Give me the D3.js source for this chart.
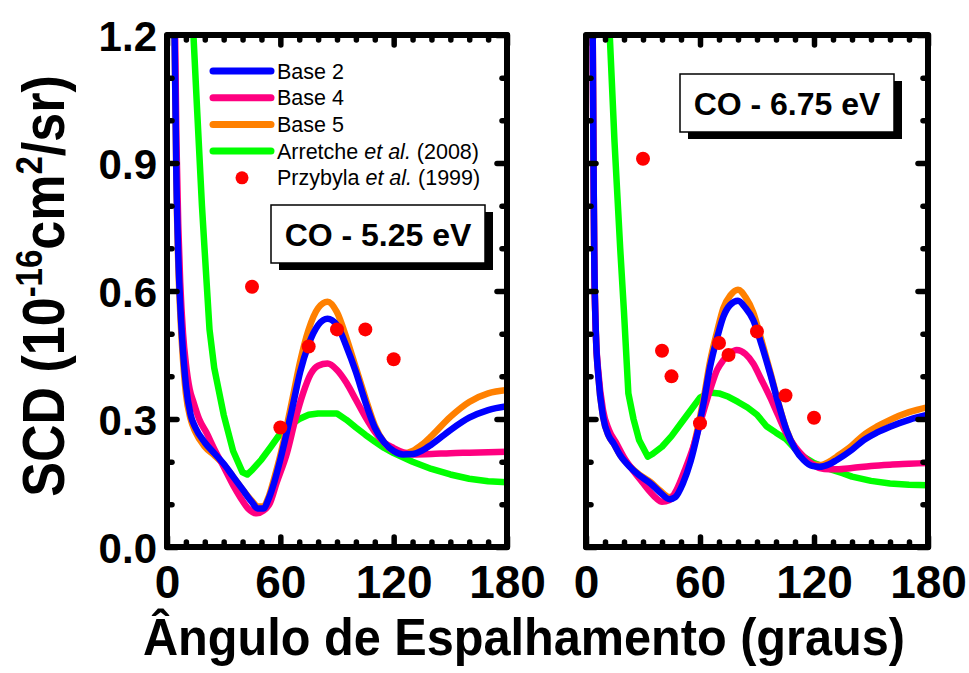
<!DOCTYPE html>
<html>
<head>
<meta charset="utf-8">
<script src="https://cdn.jsdelivr.net/npm/d3@7"></script>
<style>
  body { margin: 0; background: #fff; }
  svg { display: block; }
</style>
</head>
<body>
<svg id="chart" width="969" height="673"></svg>
<script>
// ---- Scattering angle (deg) and SCD (10^-16 cm^2/sr), CO at 5.25 eV ----
const base2AngA = [3, 4, 5, 6, 7, 8, 10, 12.5, 15, 20, 25, 30, 35, 40, 45, 48, 51, 54, 57, 60, 63.5, 67, 70.5, 75, 80, 85, 90, 95, 100, 105, 110, 115, 120, 125, 130, 135, 140, 150, 160, 170, 180];
const base2ValA = [1.7, 1.2, 0.86, 0.68, 0.57, 0.49, 0.38, 0.31, 0.28, 0.245, 0.22, 0.195, 0.165, 0.135, 0.105, 0.09, 0.09, 0.115, 0.155, 0.205, 0.27, 0.34, 0.41, 0.475, 0.52, 0.535, 0.52, 0.47, 0.41, 0.34, 0.28, 0.245, 0.225, 0.217, 0.218, 0.226, 0.24, 0.274, 0.303, 0.321, 0.33];
const base5ValA = [1.7, 1.2, 0.85, 0.66, 0.55, 0.47, 0.36, 0.3, 0.27, 0.235, 0.215, 0.193, 0.165, 0.135, 0.108, 0.095, 0.095, 0.12, 0.165, 0.215, 0.285, 0.36, 0.435, 0.51, 0.56, 0.575, 0.55, 0.49, 0.42, 0.35, 0.285, 0.245, 0.225, 0.22, 0.225, 0.24, 0.26, 0.305, 0.34, 0.36, 0.368];
const base4AngA = [3, 4, 5, 6, 7, 8.5, 10, 12, 14, 17, 21, 25, 30, 35, 39, 43, 47.5, 51, 54.5, 58, 63.5, 68, 72, 76, 80, 85, 90, 95, 100, 105, 110, 115, 120, 125, 130, 140, 150, 160, 170, 180];
const base4ValA = [1.8, 1.3, 0.95, 0.75, 0.62, 0.5, 0.43, 0.37, 0.34, 0.30, 0.267, 0.23, 0.188, 0.145, 0.115, 0.09, 0.079, 0.085, 0.103, 0.15, 0.22, 0.30, 0.36, 0.405, 0.425, 0.43, 0.415, 0.385, 0.345, 0.305, 0.27, 0.245, 0.232, 0.222, 0.217, 0.218, 0.22, 0.221, 0.222, 0.223];
const arretcheAngA = [10, 14, 16, 18.5, 20, 22.5, 25, 30, 35, 40, 42.5, 45, 50, 55, 60, 65, 70, 75, 80, 85, 90, 95, 100, 105, 110, 115, 120, 130, 140, 150, 160, 170, 180];
const arretcheValA = [2.0, 1.2, 1.02, 0.8, 0.69, 0.51, 0.42, 0.31, 0.225, 0.175, 0.17, 0.18, 0.205, 0.235, 0.266, 0.285, 0.30, 0.31, 0.313, 0.313, 0.313, 0.298, 0.28, 0.263, 0.247, 0.232, 0.22, 0.2, 0.183, 0.17, 0.16, 0.154, 0.152];
const przybylaAngA = [45, 60, 75, 90, 105, 120];
const przybylaValA = [0.61, 0.28, 0.47, 0.51, 0.51, 0.44];

// ---- CO at 6.75 eV ----
const base2AngB = [3, 3.8, 4.3, 5.2, 6.5, 9, 12, 14.5, 18, 23, 28, 34, 39, 44, 47, 51, 55, 58.3, 62, 65.3, 69, 72.3, 76, 80, 84, 88, 92, 97, 101, 105.5, 110, 114.5, 119, 123, 128, 132, 140, 146, 153, 160, 170, 180];
const base2ValB = [1.6, 1.0, 0.7, 0.5, 0.4, 0.305, 0.26, 0.243, 0.215, 0.188, 0.168, 0.149, 0.128, 0.112, 0.117, 0.149, 0.2, 0.259, 0.34, 0.422, 0.49, 0.54, 0.568, 0.577, 0.56, 0.532, 0.48, 0.405, 0.34, 0.274, 0.23, 0.204, 0.19, 0.188, 0.194, 0.204, 0.228, 0.25, 0.268, 0.282, 0.298, 0.31];
const base5ValB = [1.6, 1.0, 0.7, 0.5, 0.4, 0.305, 0.26, 0.243, 0.215, 0.19, 0.17, 0.152, 0.132, 0.117, 0.122, 0.155, 0.207, 0.268, 0.35, 0.435, 0.505, 0.56, 0.59, 0.603, 0.585, 0.55, 0.49, 0.41, 0.342, 0.275, 0.232, 0.207, 0.194, 0.192, 0.2, 0.212, 0.238, 0.262, 0.282, 0.298, 0.316, 0.328];
const base4AngB = [3, 3.8, 4.3, 5.2, 6.5, 9, 12, 16, 20, 25, 30, 34, 37, 40, 44, 47.7, 52, 56.5, 61, 65.3, 69, 72.3, 76, 79.3, 84, 88, 92, 97, 101, 105.5, 110, 114.5, 119, 123, 128, 132, 140, 150, 160, 170, 180];
const base4ValB = [1.6, 1.0, 0.7, 0.5, 0.41, 0.32, 0.275, 0.243, 0.21, 0.178, 0.15, 0.128, 0.114, 0.106, 0.11, 0.134, 0.18, 0.235, 0.305, 0.368, 0.415, 0.438, 0.455, 0.462, 0.452, 0.43, 0.395, 0.35, 0.31, 0.266, 0.235, 0.212, 0.195, 0.185, 0.182, 0.182, 0.185, 0.19, 0.193, 0.195, 0.197];
const arretcheAngB = [10, 12.6, 15, 18, 20, 22.3, 25, 28, 32.5, 35, 40, 45, 50, 55, 60, 65, 70, 75, 80, 85, 90, 95, 100, 105, 110, 115, 120, 125, 130, 135, 140, 150, 160, 170, 180];
const arretcheValB = [1.35, 1.19, 0.95, 0.70, 0.55, 0.36, 0.3, 0.25, 0.212, 0.218, 0.235, 0.26, 0.29, 0.32, 0.35, 0.362, 0.36, 0.352, 0.34, 0.327, 0.31, 0.283, 0.268, 0.254, 0.23, 0.21, 0.197, 0.188, 0.18, 0.173, 0.165, 0.155, 0.149, 0.146, 0.145];
const przybylaAngB = [30, 40, 45, 60, 70, 75, 90, 105, 120];
const przybylaValB = [0.91, 0.46, 0.40, 0.29, 0.478, 0.45, 0.505, 0.355, 0.303];

// ---- labels ----
const panelTitles = ["CO - 5.25 eV", "CO - 6.75 eV"];
const xTickValues = [0, 60, 120, 180];
const yTickValues = [0, 0.3, 0.6, 0.9, 1.2];
const legendNames = ["Base 2", "Base 4", "Base 5", "Arretche", "Przybyla"];
const legendSuffix = ["", "", "", " (2008)", " (1999)"];

const FONT = "'Liberation Sans', Arial, Helvetica, sans-serif";
const colors = { b2: "#0000ff", b4: "#ff0080", b5: "#ff8000", arr: "#00ff00", prz: "#ff0000" };

const svg = d3.select("#chart");
const plotTop = 35, plotBottom = 547;
const panels = [
  { x0: 167, x1: 507, title: panelTitles[0], box: [271, 205],
    series: [
      { ang: arretcheAngA, val: arretcheValA, c: colors.arr, curve: d3.curveLinear },
      { ang: base2AngA, val: base5ValA, c: colors.b5, curve: d3.curveMonotoneX },
      { ang: base4AngA, val: base4ValA, c: colors.b4, curve: d3.curveMonotoneX },
      { ang: base2AngA, val: base2ValA, c: colors.b2, curve: d3.curveMonotoneX }
    ],
    pts: { ang: przybylaAngA, val: przybylaValA }, yLabels: true, legend: true },
  { x0: 586, x1: 928, title: panelTitles[1], box: [680, 74],
    series: [
      { ang: arretcheAngB, val: arretcheValB, c: colors.arr, curve: d3.curveLinear },
      { ang: base2AngB, val: base5ValB, c: colors.b5, curve: d3.curveMonotoneX },
      { ang: base4AngB, val: base4ValB, c: colors.b4, curve: d3.curveMonotoneX },
      { ang: base2AngB, val: base2ValB, c: colors.b2, curve: d3.curveMonotoneX }
    ],
    pts: { ang: przybylaAngB, val: przybylaValB }, yLabels: false, legend: false }
];

const y = d3.scaleLinear().domain([0, 1.2]).range([plotBottom, plotTop]);
const minorX = d3.range(0, 181, 10).filter(d => d % 60 !== 0);
const minorY = d3.range(0, 13).map(d => +(d / 10).toFixed(1)).filter(d => Math.round(d * 10) % 3 !== 0);

panels.forEach((p, i) => {
  const x = d3.scaleLinear().domain([0, 180]).range([p.x0, p.x1]);
  const g = svg.append("g");
  const clipId = "clip" + i;
  svg.append("clipPath").attr("id", clipId).append("rect")
    .attr("x", p.x0).attr("y", plotTop).attr("width", p.x1 - p.x0).attr("height", plotBottom - plotTop);

  // curves
  const plot = g.append("g").attr("clip-path", `url(#${clipId})`);
  p.series.forEach(s => {
    const data = s.ang.map((a, k) => [a, s.val[k]]);
    plot.append("path").datum(data)
      .attr("fill", "none").attr("stroke", s.c).attr("stroke-width", 6.5)
      .attr("stroke-linejoin", "round").attr("stroke-linecap", "round")
      .attr("d", d3.line().x(d => x(d[0])).y(d => y(d[1])).curve(s.curve));
  });
  plot.selectAll("circle").data(p.pts.ang.map((a, k) => [a, p.pts.val[k]])).join("circle")
    .attr("cx", d => x(d[0])).attr("cy", d => y(d[1])).attr("r", 7).attr("fill", colors.prz);

  // ticks on all four sides
  const tickStyle = sel => {
    sel.select(".domain").remove();
    sel.selectAll(".tick line").attr("stroke", "#000").attr("stroke-width", 5.5).attr("stroke-linecap", "round");
    sel.selectAll(".tick text").remove();
  };
  [[minorX, 5], [xTickValues, 10]].forEach(([vals, len]) => {
    g.append("g").attr("transform", `translate(0,${plotBottom})`)
      .call(d3.axisBottom(x).tickValues(vals).tickSize(-len)).call(tickStyle);
    g.append("g").attr("transform", `translate(0,${plotTop})`)
      .call(d3.axisTop(x).tickValues(vals).tickSize(-len)).call(tickStyle);
  });
  [[minorY, 5], [yTickValues, 10]].forEach(([vals, len]) => {
    g.append("g").attr("transform", `translate(${p.x0},0)`)
      .call(d3.axisLeft(y).tickValues(vals).tickSize(-len)).call(tickStyle);
    g.append("g").attr("transform", `translate(${p.x1},0)`)
      .call(d3.axisRight(y).tickValues(vals).tickSize(-len)).call(tickStyle);
  });

  // frame
  g.append("rect").attr("x", p.x0).attr("y", plotTop).attr("width", p.x1 - p.x0).attr("height", plotBottom - plotTop)
    .attr("fill", "none").attr("stroke", "#000").attr("stroke-width", 6).attr("stroke-linejoin", "round");

  // x tick labels
  g.append("g").attr("transform", `translate(0,${plotBottom})`)
    .call(d3.axisBottom(x).tickValues(xTickValues).tickSize(0).tickPadding(0).tickFormat(d3.format("d")))
    .call(sel => {
      sel.select(".domain").remove();
      sel.selectAll(".tick text").attr("y", 51).attr("dy", null)
        .attr("font-family", FONT).attr("font-weight", "bold").attr("font-size", 46)
        .attr("fill", "#000");
    });

  // y tick labels
  if (p.yLabels) {
    g.append("g").attr("transform", `translate(${p.x0},0)`)
      .call(d3.axisLeft(y).tickValues(yTickValues).tickSize(0).tickPadding(10).tickFormat(d3.format(".1f")))
      .call(sel => {
        sel.select(".domain").remove();
        sel.selectAll(".tick text").attr("dy", "0.36em")
          .attr("font-family", FONT).attr("font-weight", "bold").attr("font-size", 42).attr("fill", "#000");
      });
  }

  // energy label with drop shadow
  const [bx, by] = p.box, bw = 214, bh = 58;
  g.append("rect").attr("x", bx + 8).attr("y", by + 7).attr("width", bw).attr("height", bh).attr("fill", "#000");
  g.append("rect").attr("x", bx).attr("y", by).attr("width", bw).attr("height", bh)
    .attr("fill", "#fff").attr("stroke", "#000").attr("stroke-width", 1.5);
  g.append("text").attr("x", bx + bw / 2).attr("y", by + bh / 2 + 11.5).attr("text-anchor", "middle")
    .attr("font-family", FONT).attr("font-weight", "bold").attr("font-size", 32).text(p.title);

  // legend
  if (p.legend) {
    const lg = g.append("g");
    const rowY = k => 71 + k * 26.7;
    const legendColors = [colors.b2, colors.b4, colors.b5, colors.arr];
    legendColors.forEach((c, k) => {
      lg.append("line").attr("x1", 213).attr("x2", 271).attr("y1", rowY(k)).attr("y2", rowY(k))
        .attr("stroke", c).attr("stroke-width", 7).attr("stroke-linecap", "round");
    });
    lg.append("circle").attr("cx", 242).attr("cy", rowY(4)).attr("r", 6.5).attr("fill", colors.prz);
    legendNames.forEach((n, k) => {
      const t = lg.append("text").attr("x", 277).attr("y", rowY(k) + 7.5)
        .attr("font-family", FONT).attr("font-size", 21.5).attr("fill", "#000");
      t.append("tspan").text(n);
      if (legendSuffix[k]) {
        t.append("tspan").attr("font-style", "italic").text(" et al.");
        t.append("tspan").text(legendSuffix[k]);
      }
    });
  }
});

// axis titles
svg.append("text").attr("x", 524).attr("y", 655).attr("text-anchor", "middle")
  .attr("font-family", FONT).attr("font-weight", "bold").attr("font-size", 52)
  .attr("textLength", 762).attr("lengthAdjust", "spacingAndGlyphs")
  .text("Ângulo de Espalhamento (graus)");

// rotated title, glyphs slightly taller across the reading direction
const yt = svg.append("text").attr("transform", "translate(64,286) rotate(-90) scale(1,1.14)")
  .attr("text-anchor", "middle").attr("font-family", FONT).attr("font-weight", "bold").attr("font-size", 52);
yt.append("tspan").text("SCD (10");
yt.append("tspan").attr("dy", -19).attr("font-size", 33).text("-16");
yt.append("tspan").attr("dy", 19).text("cm");
yt.append("tspan").attr("dy", -19).attr("font-size", 33).text("2");
yt.append("tspan").attr("dy", 19).text("/sr)");
</script>
</body>
</html>
